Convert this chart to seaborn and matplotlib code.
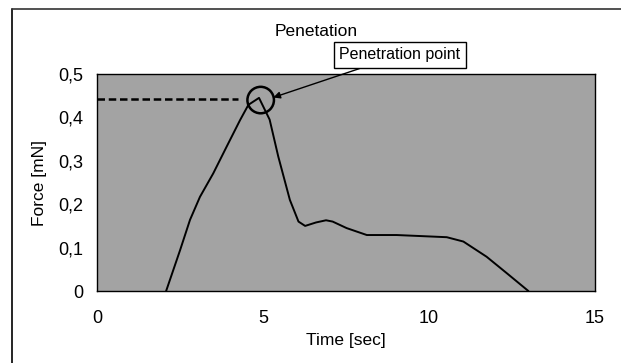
import matplotlib
matplotlib.use("Agg")
import matplotlib.pyplot as plt
from matplotlib.lines import Line2D
from matplotlib.patches import Ellipse
import pandas as pd
import seaborn as sns

# values
time_sec = [2.08, 2.5, 2.8, 3.1, 3.5, 3.9, 4.31, 4.56, 4.88, 5.2, 5.46, 5.81, 6.07,
            6.27, 6.6, 6.9, 7.1, 7.52, 8.13, 9.03, 10.54, 11.04, 11.74, 12.35, 13.0]
force_mn = [0.0, 0.094, 0.164, 0.217, 0.271, 0.332, 0.394, 0.429, 0.445, 0.395, 0.31, 0.21, 0.16,
            0.15, 0.158, 0.163, 0.16, 0.145, 0.129, 0.129, 0.124, 0.114, 0.079, 0.041, 0.0]
pen_time = 4.93
pen_force = 0.44
x_ticks = [0, 5, 10, 15]
y_ticks = [0, 0.1, 0.2, 0.3, 0.4, 0.5]
y_tick_labels = ["0", "0,1", "0,2", "0,3", "0,4", "0,5"]

df = pd.DataFrame({"time": time_sec, "force": force_mn})

sns.set_style("white")
plt.rcParams["font.family"] = ["Liberation Sans", "DejaVu Sans"]
plt.rcParams["text.color"] = "black"
plt.rcParams["axes.labelcolor"] = "black"

fig = plt.figure(figsize=(6.21, 3.63), dpi=100)
ax = fig.add_axes([0.1564, 0.1983, 0.8013, 0.5978])
ax.set_facecolor("#a3a3a3")

sns.lineplot(data=df, x="time", y="force", color="black", linewidth=1.4, ax=ax)

# dashed guide to the penetration point
ax.plot([0, 4.25], [0.442, 0.442], color="black", linestyle=(0, (3, 1.5)), linewidth=1.8)
circ = Ellipse((pen_time, pen_force), width=0.8, height=0.061, fill=False,
               edgecolor="black", linewidth=1.8)
ax.add_patch(circ)

ax.set_xlim(0, 15)
ax.set_ylim(0, 0.5)
ax.set_xticks(x_ticks)
ax.set_yticks(y_ticks)
ax.set_yticklabels(y_tick_labels)
ax.tick_params(direction="in", length=3, labelsize=13, pad=10, colors="black")
ax.tick_params(axis="x", pad=14)
for s in ax.spines.values():
    s.set_color("black")
    s.set_linewidth(1.0)

ax.set_xlabel("Time [sec]", fontsize=12.5, labelpad=4)
ax.set_ylabel("Force [mN]", fontsize=12.5, labelpad=8)

fig.text(316 / 621, 1 - 32 / 363, "Penetation", fontsize=12.5, ha="center", va="center")

ax.annotate("Penetration point", xy=(pen_time + 0.38, pen_force + 0.006),
            xytext=(400 / 621, 1 - 55 / 363), textcoords="figure fraction",
            fontsize=11.5, ha="center", va="center",
            bbox=dict(boxstyle="square,pad=0.35", fc="white", ec="black", lw=1.0),
            arrowprops=dict(arrowstyle="-|>", color="black", lw=1.0,
                            shrinkA=0, shrinkB=0, mutation_scale=10))

# frame around the figure (left and top edges visible)
fig.add_artist(Line2D([12 / 621, 12 / 621], [0, 1 - 9 / 363], color="black", lw=1.2,
                      transform=fig.transFigure))
fig.add_artist(Line2D([12 / 621, 1], [1 - 9 / 363, 1 - 9 / 363], color="#333333", lw=1.2,
                      transform=fig.transFigure))

fig.savefig("out.png", dpi=100, facecolor="white")
